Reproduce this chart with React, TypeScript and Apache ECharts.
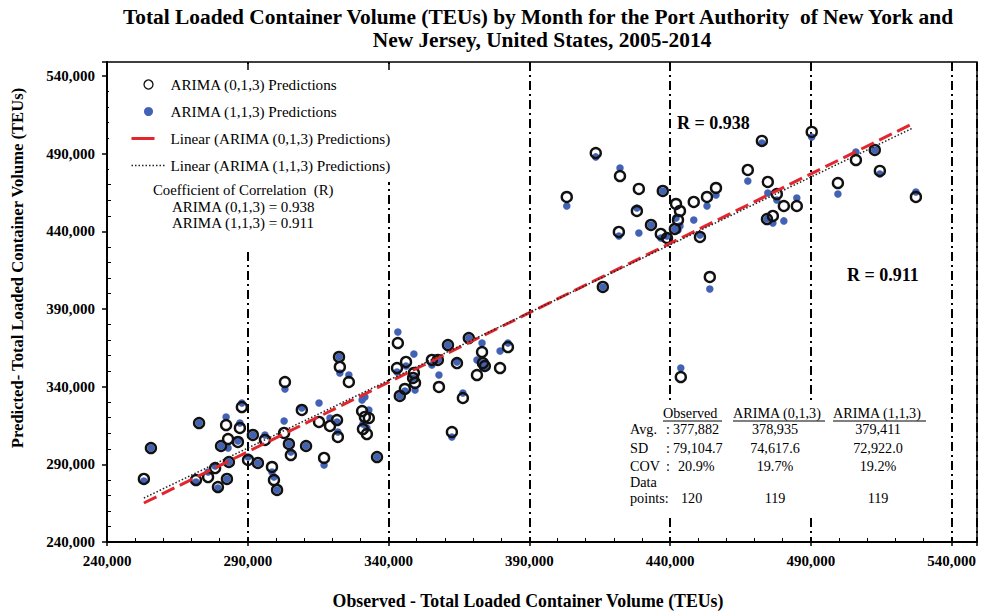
import React, { useEffect, useRef } from "react";
import * as echarts from "echarts";

// Observed monthly volume (TEUs) and the two model predictions
const observed = [
  253100, 255600, 271600, 272700, 275900, 278400, 279400, 282600, 283300, 280500,
  282300, 283000, 286500, 287200, 287900, 290100, 291800, 293600, 296100, 298600,
  299300, 300400, 303200, 304600, 302900, 305300, 310700, 309200, 315300, 317100,
  319200, 321700, 322000, 322400, 322700, 325900, 330600, 331600, 333000, 330900,
  332300, 335900, 343300, 344000, 345800, 346200, 343000, 349000, 348700, 349400,
  355400, 357500, 357900, 361100, 364300, 366400, 362500, 368500, 371400, 373200,
  373500, 374200, 379600, 382400, 403300, 413600, 422200, 428900, 428200, 421800,
  433200, 437400, 436700, 438900, 416100, 442100, 443500, 442800, 441700, 448400,
  453100, 456300, 450600, 454100, 443800, 467600, 472600, 474700, 474400, 476500,
  477900, 480400, 485000, 490300, 499600, 506000, 512700, 514500, 527300,
];
const arima013 = [
  280600, 300500, 279900, 316600, 281800, 287600, 275400, 280600, 291500, 301800,
  315300, 306300, 304400, 313400, 326900, 292800, 308900, 290900, 305700, 288300,
  279900, 273500, 343000, 303100, 310200, 296000, 301800, 325000, 317300, 294100,
  314700, 318500, 307600, 359100, 352700, 343000, 324300, 320500, 319800, 312700,
  309500, 294700, 368100, 334000, 338500, 355900, 352000, 348800, 345600, 342400,
  357200, 357200, 339800, 366800, 355200, 332700, 310800, 371300, 347500, 362300,
  355200, 353300, 352000, 365500, 462100, 490400, 475600, 467300, 453100, 439600,
  444100, 466000, 438300, 435700, 404200, 457600, 453100, 447300, 441500, 458900,
  462100, 467900, 436400, 410600, 346200, 479500, 498200, 471800, 447900, 449900,
  464000, 456300, 456300, 504000, 471100, 485900, 492400, 478900, 462100,
];
const arima113 = [
  279300, 300500, 278600, 316600, 285100, 288900, 274800, 280600, 291500, 301800,
  320500, 300500, 305000, 316600, 329500, 294700, 308900, 290900, 308900, 285100,
  281800, 273500, 338500, 303100, 317900, 297900, 301800, 326300, 329500, 289600,
  319800, 317300, 310800, 359100, 348800, 347500, 331400, 333400, 325000, 316000,
  313400, 294700, 375200, 334000, 337200, 353300, 349400, 361000, 345600, 337900,
  354000, 357200, 347500, 366800, 355900, 335900, 307600, 371300, 357200, 368100,
  355200, 352700, 363000, 368100, 456300, 487900, 480800, 438900, 455000, 437000,
  444100, 466000, 435700, 437000, 404200, 448600, 443400, 440900, 441500, 447300,
  456300, 463400, 437600, 402900, 352000, 472400, 496900, 464700, 447900, 445400,
  460200, 446700, 461500, 500700, 464000, 491100, 492400, 476900, 465300,
];

// Linear trend line end points
const trendX013 = [253100, 525900];
const trendY013 = [265100, 509100];
const trendX113 = [253100, 526200];
const trendY113 = [268300, 506500];

const axisTicks = [240000, 290000, 340000, 390000, 440000, 490000, 540000];

const tableHeaders = ["Observed", "ARIMA (0,1,3)", "ARIMA (1,1,3)"];
const tableRowLabels = ["Avg.", "SD", "COV", "Data", "points:"];
const tableObserved = ["377,882", "79,104.7", "20.9%", "", "120"];
const tableArima013 = ["378,935", "74,617.6", "19.7%", "", "119"];
const tableArima113 = ["379,411", "72,922.0", "19.2%", "", "119"];

const N1 = "ARIMA (0,1,3) Predictions";
const N2 = "ARIMA (1,1,3) Predictions";
const N3 = "Linear (ARIMA (0,1,3) Predictions)";
const N4 = "Linear (ARIMA (1,1,3) Predictions)";

const SERIF = '"Liberation Serif", "Times New Roman", serif';

function fmt(v: number) {
  return String(v).replace(/\B(?=(\d{3})+(?!\d))/g, ",");
}

export default function App() {
  const ref = useRef<HTMLDivElement>(null);
  useEffect(() => {
    if (!ref.current) return;
    const chart = echarts.init(ref.current, undefined, { renderer: "svg" });
    const AXMIN = 240000;
    const AXMAX = 549000;
    const labelFmt = (v: number) => (axisTicks.indexOf(v) >= 0 ? fmt(v) : "");

    const txt = (x: number, y: number, text: string, size: number, bold = false, align = "left", z = 10) => ({
      type: "text",
      x,
      y,
      z,
      style: {
        text,
        fill: "#000",
        font: `${bold ? "bold " : ""}${size}px ${SERIF}`,
        align,
        verticalAlign: "middle",
      },
    });

    const rowYs = [429, 448, 466, 482, 498];
    const TS = 14.2;
    const graphics: any[] = [
      // white backgrounds of the annotation boxes
      { type: "rect", z: 1, shape: { x: 109, y: 64, width: 287, height: 118 }, style: { fill: "#fff" } },
      { type: "rect", z: 1, shape: { x: 140, y: 180, width: 206, height: 70 }, style: { fill: "#fff" } },
      { type: "rect", z: 1, shape: { x: 626, y: 400, width: 314, height: 117 }, style: { fill: "#fff" } },
      txt(538, 17, "Total Loaded Container Volume (TEUs) by Month for the Port Authority  of New York and", 21.4, true, "center"),
      txt(542, 40, "New Jersey, United States, 2005-2014", 21.4, true, "center"),
      txt(528, 601, "Observed - Total Loaded Container Volume (TEUs)", 17.8, true, "center"),
      {
        ...txt(17, 268, "Predicted- Total Loaded Container Volume (TEUs)", 16.6, true, "center"),
        rotation: Math.PI / 2,
      },
      txt(153, 190, "Coefficient of Correlation  (R)", 14.8),
      txt(172, 207, "ARIMA (0,1,3) = 0.938", 15),
      txt(172, 223, "ARIMA (1,1,3) = 0.911", 15),
      txt(677, 123, "R = 0.938", 18, true),
      txt(847, 275, "R = 0.911", 18, true),
      txt(663, 413, tableHeaders[0], TS),
      txt(733, 413, tableHeaders[1], TS),
      txt(833, 413, tableHeaders[2], TS),
      { type: "line", z: 10, shape: { x1: 663, y1: 421, x2: 722, y2: 421 }, style: { stroke: "#000", lineWidth: 1 } },
      { type: "line", z: 10, shape: { x1: 733, y1: 421, x2: 825, y2: 421 }, style: { stroke: "#000", lineWidth: 1 } },
      { type: "line", z: 10, shape: { x1: 833, y1: 421, x2: 926, y2: 421 }, style: { stroke: "#000", lineWidth: 1 } },
    ];
    tableRowLabels.forEach((lab, i) => {
      const y = rowYs[i];
      graphics.push(txt(630, y, lab, TS));
      if (i < 3) graphics.push(txt(666, y, ":", TS));
      if (tableObserved[i]) graphics.push(txt(i === 2 ? 678 : i === 4 ? 681 : 673, y, tableObserved[i], TS));
      if (tableArima013[i]) graphics.push(txt(775, y, tableArima013[i], TS, false, "center"));
      if (tableArima113[i]) graphics.push(txt(878, y, tableArima113[i], TS, false, "center"));
    });

    const labelStyle = { fontFamily: SERIF, fontSize: 15, fontWeight: "bold", color: "#000" };
    const hiddenSymbol = { color: "rgba(0,0,0,0)", borderWidth: 0, opacity: 0 };

    chart.setOption({
      animation: false,
      grid: {
        left: 107,
        top: 62,
        right: 4,
        bottom: 71,
        show: true,
        borderColor: "#000",
        borderWidth: 1.5,
        containLabel: false,
        outerBoundsMode: "none",
      },
      legend: {
        orient: "vertical",
        left: 130,
        top: 77,
        padding: 0,
        itemGap: 12,
        itemWidth: 34,
        itemHeight: 9,
        z: 6,
        textStyle: { fontFamily: SERIF, fontSize: 15.2, color: "#000" },
        data: [
          { name: N1, icon: "circle", itemStyle: { borderWidth: 1.3, borderColor: "#111", color: "rgba(0,0,0,0)" } },
          { name: N2, icon: "circle" },
          { name: N3, itemStyle: hiddenSymbol, lineStyle: { type: [23, 30], width: 3, color: "#e3262d" } },
          { name: N4, itemStyle: hiddenSymbol, lineStyle: { type: [1.5, 2], width: 1.5, color: "#222" } },
        ],
      },
      xAxis: [
        {
          type: "value",
          min: AXMIN,
          max: AXMAX,
          interval: 50000,
          axisLine: { show: true, lineStyle: { color: "#000", width: 2 } },
          axisTick: { show: true, length: 4, lineStyle: { color: "#000", width: 1.5 } },
          axisLabel: { ...labelStyle, margin: 11, formatter: labelFmt },
          splitLine: { show: true, lineStyle: { color: "#000", width: 2, type: [9, 4, 2, 4] } },
        },
        {
          type: "value",
          position: "bottom",
          min: AXMIN,
          max: AXMAX,
          interval: 50000,
          axisLine: { show: false },
          axisTick: { show: false, inside: true },
          axisLabel: { show: false },
          splitLine: { show: false },
          minorTick: { show: true, splitNumber: 5, length: 4, lineStyle: { color: "#000", width: 1 } },
        },
        {
          type: "value",
          position: "top",
          min: AXMIN,
          max: AXMAX,
          interval: 50000,
          z: 5,
          axisLine: { show: false },
          axisTick: { show: true, inside: true, length: 8, lineStyle: { color: "#000", width: 1.5 } },
          axisLabel: { show: false },
          splitLine: { show: false },
        },
      ],
      yAxis: [
        {
          type: "value",
          min: AXMIN,
          max: AXMAX,
          interval: 50000,
          axisLine: { show: true, lineStyle: { color: "#000", width: 2 } },
          axisTick: { show: true, length: 5, lineStyle: { color: "#000", width: 1.5 } },
          axisLabel: { ...labelStyle, margin: 12, formatter: labelFmt },
          splitLine: { show: false },
        },
        {
          type: "value",
          position: "left",
          min: AXMIN,
          max: AXMAX,
          interval: 50000,
          axisLine: { show: false },
          axisTick: { show: false, inside: true },
          axisLabel: { show: false },
          splitLine: { show: false },
          minorTick: { show: true, splitNumber: 5, length: 4, lineStyle: { color: "#000", width: 1 } },
        },
      ],
      series: [
        {
          name: N1,
          type: "scatter",
          symbol: "circle",
          symbolSize: 10,
          z: 4,
          itemStyle: { color: "rgba(0,0,0,0)", borderColor: "#111", borderWidth: 2.4, opacity: 1 },
          data: observed.map((x, i) => [x, arima013[i]]),
        },
        {
          name: N2,
          type: "scatter",
          symbol: "circle",
          symbolSize: 7.5,
          z: 3,
          itemStyle: { color: "#4262b5", opacity: 1 },
          data: observed.map((x, i) => [x, arima113[i]]),
        },
        {
          name: N3,
          type: "line",
          symbol: "none",
          z: 5,
          lineStyle: { color: "#e3262d", width: 3, type: [14, 6] },
          data: trendX013.map((x, i) => [x, trendY013[i]]),
        },
        {
          name: N4,
          type: "line",
          symbol: "none",
          z: 6,
          lineStyle: { color: "#222", width: 1.5, type: [1.5, 2] },
          data: trendX113.map((x, i) => [x, trendY113[i]]),
        },
      ],
      graphic: graphics,
    });
    return () => chart.dispose();
  }, []);
  return (
    <div
      ref={ref}
      style={{ position: "fixed", left: 0, top: 0, width: 981, height: 613, background: "#fff" }}
    />
  );
}
